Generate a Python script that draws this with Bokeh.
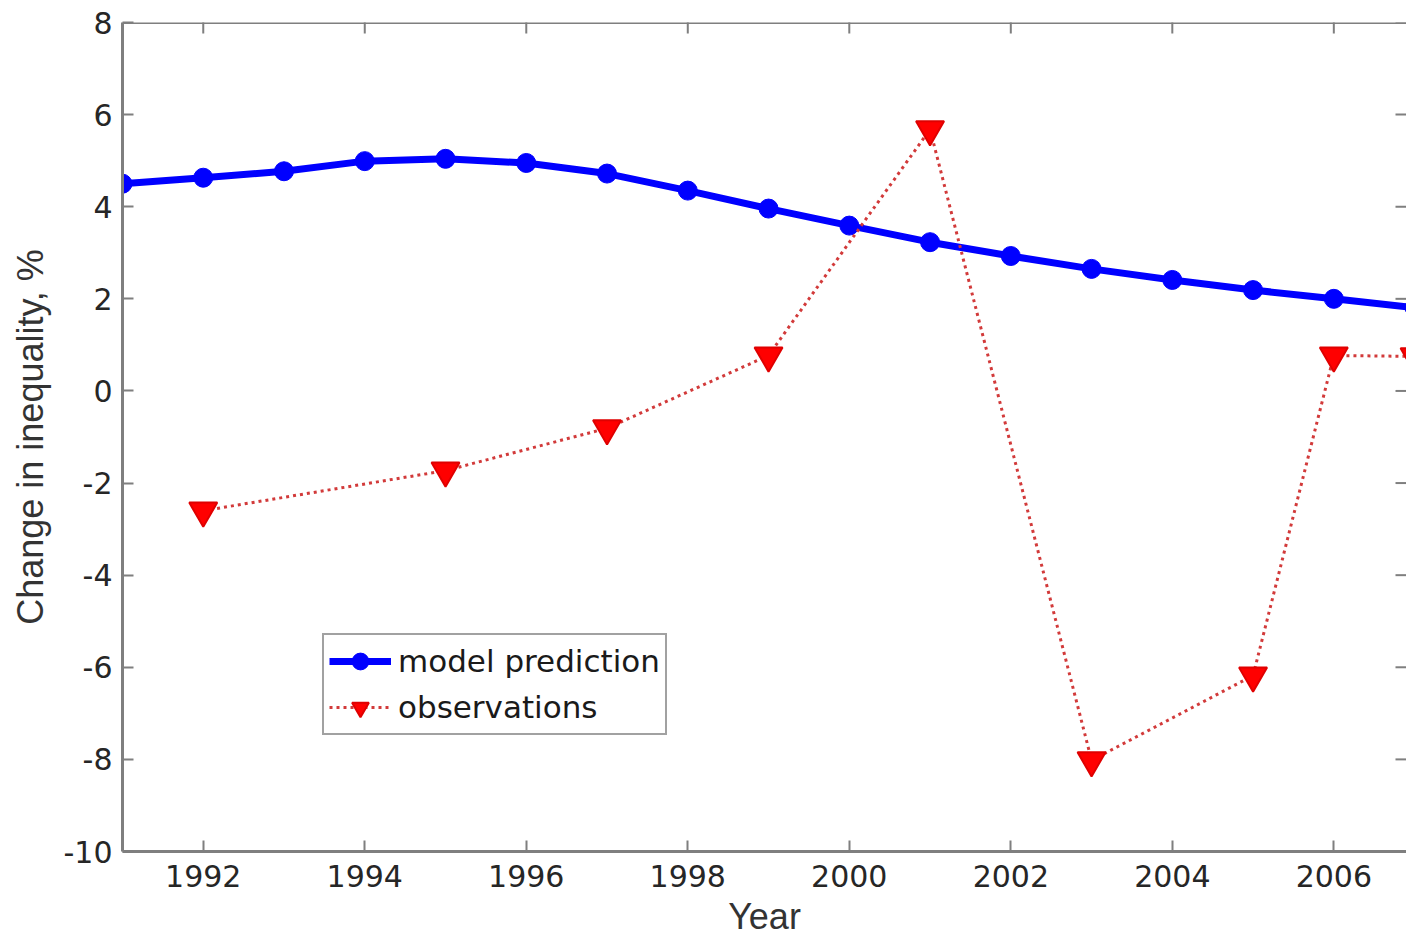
import math

from bokeh.plotting import figure
from bokeh.models import (SingleIntervalTicker, Range1d, Legend, LegendItem,
                          CustomJSTickFormatter, Span)
from bokeh.embed import file_html
from bokeh.resources import INLINE

# Annual change in inequality (%): model curve vs. observed values
model_years = [1991, 1992, 1993, 1994, 1995, 1996, 1997, 1998, 1999,
               2000, 2001, 2002, 2003, 2004, 2005, 2006, 2007]
model_values = [4.50, 4.63, 4.77, 4.99, 5.04, 4.95, 4.72, 4.35, 3.96,
                3.59, 3.23, 2.93, 2.65, 2.41, 2.19, 2.00, 1.81]

obs_years = [1992, 1995, 1997, 1999, 2001, 2003, 2005, 2006, 2007]
obs_values = [-2.60, -1.73, -0.81, 0.77, 5.68, -8.02, -6.18, 0.77, 0.75]

x_ticks = [1992, 1994, 1996, 1998, 2000, 2002, 2004, 2006]
y_ticks = [-10, -8, -6, -4, -2, 0, 2, 4, 6, 8]

x_label = "Year"
y_label = "Change in inequality, %"
model_name = "model prediction"
obs_name = "observations"

X_START, X_END = 1991, 2006.9
Y_START, Y_END = -10, 8

SPINE = "#7f7f7f"
TEXT = "#262626"

p = figure(width=1406, height=939, output_backend="svg", toolbar_location=None,
           x_range=Range1d(X_START, X_END), y_range=Range1d(Y_START, Y_END),
           min_border_left=122, min_border_right=0, min_border_top=22,
           min_border_bottom=88)
p.outline_line_color = None
p.xgrid.visible = False
p.ygrid.visible = False
p.background_fill_color = "white"
p.border_fill_color = "white"

# plain hyphen-minus tick labels
int_fmt = CustomJSTickFormatter(code="return tick.toFixed(0);")

for ax in (p.xaxis[0], p.yaxis[0]):
    ax.ticker = SingleIntervalTicker(interval=2, num_minor_ticks=0)
    ax.formatter = int_fmt
    ax.axis_line_color = SPINE
    ax.axis_line_width = 3
    ax.major_tick_line_color = SPINE
    ax.major_tick_line_width = 2
    ax.major_tick_in = 11
    ax.major_tick_out = 0
    ax.minor_tick_line_color = None
    ax.major_label_text_font = "DejaVu Sans"
    ax.major_label_text_font_size = "30px"
    ax.major_label_text_color = TEXT
    ax.axis_label_text_font = "Liberation Sans"
    ax.axis_label_text_font_size = "36px"
    ax.axis_label_text_font_style = "normal"
    ax.axis_label_text_color = "#333333"

p.xaxis[0].axis_label = x_label
p.xaxis[0].major_label_standoff = 13
p.xaxis[0].axis_label_standoff = 6
p.yaxis[0].axis_label = y_label
p.yaxis[0].major_label_standoff = 10
p.yaxis[0].axis_label_standoff = 10

# top edge of the box and inward ticks along the top and right edges
p.add_layout(Span(location=Y_END, dimension="width", line_color=SPINE,
                  line_width=3))
p.scatter(x_ticks, [Y_END] * len(x_ticks), marker="dash", size=22,
          angle=math.pi / 2, line_color=SPINE, line_width=2)
p.scatter([X_END] * len(y_ticks), y_ticks, marker="dash", size=22,
          line_color=SPINE, line_width=2)

# model prediction: solid blue line with round markers
m_line = p.line(model_years, model_values, line_color="#0000ff", line_width=7)
m_pts = p.scatter(model_years, model_values, marker="circle", size=19,
                  fill_color="#0000ff", line_color="#0000ff")

# observations: dotted red line with downward triangles
o_line = p.line(obs_years, obs_values, line_color="#d23a3a", line_width=3,
                line_dash="3 4")
o_pts = p.scatter(obs_years, obs_values, marker="inverted_triangle", size=28,
                  fill_color="#ff0000", line_color="#e00000", line_width=2)

legend = Legend(items=[
    LegendItem(label=model_name, renderers=[m_line, m_pts]),
    LegendItem(label=obs_name, renderers=[o_line, o_pts]),
], location=(200, 116))
legend.label_text_font = "DejaVu Sans"
legend.label_text_font_size = "31px"
legend.label_text_color = "#1a1a1a"
legend.glyph_width = 62
legend.glyph_height = 42
legend.label_height = 42
legend.label_standoff = 7
legend.spacing = 4
legend.padding = 5
legend.margin = 0
legend.border_line_color = "#444444"
legend.border_line_width = 2
legend.background_fill_color = "white"
legend.background_fill_alpha = 1.0
p.add_layout(legend, "center")

open("out.html", "w").write(file_html(p, INLINE))
